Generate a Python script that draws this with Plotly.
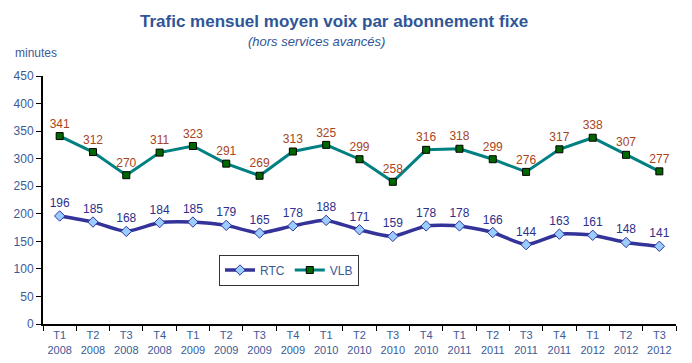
import plotly.graph_objects as go

categories = ["T1<br>2008","T2<br>2008","T3<br>2008","T4<br>2008",
              "T1<br>2009","T2<br>2009","T3<br>2009","T4<br>2009",
              "T1<br>2010","T2<br>2010","T3<br>2010","T4<br>2010",
              "T1<br>2011","T2<br>2011","T3<br>2011","T4<br>2011",
              "T1<br>2012","T2<br>2012","T3<br>2012"]
rtc = [196,185,168,184,185,179,165,178,188,171,159,178,178,166,144,163,161,148,141]
vlb = [341,312,270,311,323,291,269,313,325,299,258,316,318,299,276,317,338,307,277]
y_ticks = [0,50,100,150,200,250,300,350,400,450]

FONT = "Liberation Sans, Arial, sans-serif"
AXC = "#3c5a98"

W, H = 692, 363
l, r, t, b = 43, 16, 76, 39
pw, ph = W - l - r, H - t - b

def px2paper(px, py):
    return (px - l) / pw, (H - b - py) / ph

fig = go.Figure()
fig.add_trace(go.Scatter(
    x=categories, y=rtc, name="RTC", mode="lines+markers+text",
    line=dict(color="#333399", width=3.5, shape="spline", smoothing=0.6),
    marker=dict(symbol="diamond", size=8, color="#99ccff", line=dict(color="#333399", width=1)),
    text=[str(v) for v in rtc], textposition="top center",
    textfont=dict(color="#2e2e8c", size=12, family=FONT),
))
fig.add_trace(go.Scatter(
    x=categories, y=vlb, name="VLB", mode="lines+markers+text",
    line=dict(color="#008080", width=3),
    marker=dict(symbol="square", size=7, color="#006600", line=dict(color="#000000", width=1)),
    text=[str(v) for v in vlb], textposition="top center",
    textfont=dict(color="#a9441c", size=12, family=FONT),
))

anns = []
for txt, x, y, size, xa in [
    ("<b>Trafic mensuel moyen voix par abonnement fixe</b>", 334, 22, 17, "center"),
    ("<i>(hors services avancés)</i>", 316, 42, 13, "center"),
    ("minutes", 13, 53, 12, "left"),
]:
    ax, ay = px2paper(x, y)
    anns.append(dict(text=txt, x=ax, y=ay, xref="paper", yref="paper", showarrow=False,
                     xanchor=xa, yanchor="middle",
                     font=dict(size=size, color="#2f5597" if size > 12 or "hors" in txt else AXC)))

lx, ly = px2paper(219, 270)
fig.update_layout(
    width=W, height=H,
    margin=dict(l=l, r=r, t=t, b=b, autoexpand=False),
    paper_bgcolor="white", plot_bgcolor="white",
    font=dict(family=FONT, size=12, color=AXC),
    showlegend=True,
    legend=dict(orientation="h", x=lx, y=ly, xanchor="left", yanchor="middle",
                bordercolor="#333333", borderwidth=1, bgcolor="white",
                font=dict(size=12, color=AXC), itemwidth=30),
    annotations=anns,
)

fig.update_xaxes(showline=True, linecolor="black", linewidth=2, ticks="outside",
                 tickson="boundaries", ticklen=5, tickcolor="black", showgrid=False,
                 tickangle=0, automargin=False,
                 tickfont=dict(size=11, color=AXC), range=[-0.5, 18.5])
fig.update_yaxes(showline=True, linecolor="black", linewidth=2, ticks="outside",
                 ticklen=5, tickcolor="black", showgrid=False, range=[0, 450],
                 automargin=False,
                 tickvals=y_ticks, tickfont=dict(size=12, color=AXC), zeroline=False)

fig.write_html("out.html", config={"displayModeBar": False},
               post_script="document.body.style.margin='0';document.body.style.overflow='hidden';")
